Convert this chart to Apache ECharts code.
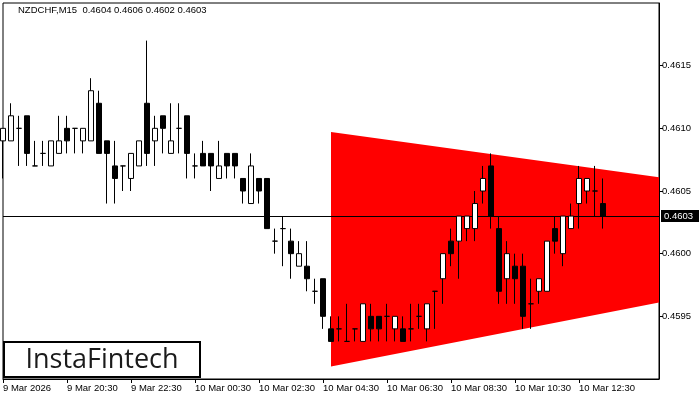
<!DOCTYPE html>
<html>
<head>
<meta charset="utf-8">
<script src="https://cdn.jsdelivr.net/npm/echarts@6/dist/echarts.min.js"></script>
<style>html,body{margin:0;padding:0;background:#fff}#c{width:700px;height:400px}</style>
</head>
<body>
<div id="c"></div>
<script>
// ---- data ----
var symbolTitle = "NZDCHF,M15  0.4604 0.4606 0.4602 0.4603";
var tickLabels = ["9 Mar 2026","9 Mar 20:30","9 Mar 22:30","10 Mar 00:30","10 Mar 02:30","10 Mar 04:30","10 Mar 06:30","10 Mar 08:30","10 Mar 10:30","10 Mar 12:30"];
var tickStep = 8;
var slotCount = 83;
var opens  = [0.4609,0.4609,0.4610,0.4611,0.4607,0.4608,0.4607,0.4608,0.4610,0.4610,0.4609,0.4609,0.4612,0.4609,0.4607,0.4607,0.4606,0.4607,0.4612,0.4609,0.4611,0.4608,0.4610,0.4611,0.4607,0.4608,0.4608,0.4606,0.4608,0.4608,0.4606,0.4604,0.4606,0.4606,0.4601,0.4602,0.4601,0.4599,0.4599,0.4597,0.4598,0.4594,0.4594,0.4593,0.4594,0.4593,0.4595,0.4595,0.4595,0.4594,0.4594,0.4594,0.4595,0.4594,0.4597,0.4598,0.4601,0.4601,0.4602,0.4602,0.4605,0.4607,0.4602,0.4598,0.4599,0.4599,0.4596,0.4597,0.4597,0.4602,0.4600,0.4602,0.4604,0.4605,0.4605,0.4604];
var highs  = [0.4610,0.4612,0.4611,0.4611,0.4609,0.4609,0.4609,0.4611,0.4611,0.4610,0.4610,0.4614,0.4613,0.4609,0.4609,0.4607,0.4608,0.4609,0.4617,0.4611,0.4611,0.4612,0.4612,0.4611,0.4608,0.4609,0.4608,0.4609,0.4608,0.4608,0.4606,0.4608,0.4606,0.4606,0.4602,0.4603,0.4602,0.4601,0.4601,0.4598,0.4598,0.4595,0.4595,0.4596,0.4594,0.4596,0.4596,0.4595,0.4596,0.4595,0.4595,0.4596,0.4596,0.4596,0.4597,0.4600,0.4602,0.4603,0.4603,0.4605,0.4607,0.4608,0.4603,0.4601,0.4600,0.4600,0.4598,0.4598,0.4601,0.4603,0.4603,0.4604,0.4607,0.4606,0.4607,0.4606];
var lows   = [0.4606,0.4609,0.4607,0.4607,0.4607,0.4607,0.4607,0.4608,0.4608,0.4608,0.4608,0.4609,0.4608,0.4604,0.4604,0.4605,0.4605,0.4607,0.4607,0.4607,0.4608,0.4608,0.4608,0.4606,0.4606,0.4607,0.4605,0.4606,0.4606,0.4606,0.4604,0.4604,0.4604,0.4602,0.4600,0.4599,0.4598,0.4599,0.4597,0.4596,0.4594,0.4593,0.4593,0.4593,0.4593,0.4593,0.4593,0.4593,0.4593,0.4593,0.4593,0.4593,0.4594,0.4593,0.4594,0.4596,0.4599,0.4598,0.4601,0.4601,0.4604,0.4602,0.4596,0.4596,0.4596,0.4594,0.4594,0.4596,0.4597,0.4600,0.4599,0.4602,0.4602,0.4604,0.4603,0.4602];
var closes = [0.4610,0.4611,0.4610,0.4608,0.4607,0.4608,0.4609,0.4609,0.4609,0.4610,0.4610,0.4613,0.4608,0.4608,0.4606,0.4607,0.4608,0.4609,0.4608,0.4610,0.4610,0.4609,0.4610,0.4608,0.4607,0.4607,0.4607,0.4607,0.4607,0.4607,0.4605,0.4607,0.4605,0.4602,0.4601,0.4602,0.4600,0.4600,0.4598,0.4597,0.4595,0.4593,0.4594,0.4593,0.4594,0.4596,0.4594,0.4594,0.4595,0.4595,0.4593,0.4594,0.4595,0.4596,0.4597,0.4600,0.4600,0.4603,0.4603,0.4604,0.4606,0.4603,0.4597,0.4600,0.4598,0.4595,0.4596,0.4598,0.4601,0.4601,0.4603,0.4603,0.4606,0.4606,0.4605,0.4603];
var currentPrice = 0.4603;
var triangleX = [41, 82];
var triangleTop = [0.46097, 0.46061];
var triangleBottom = [0.45910, 0.45961];
var yMin = 0.4590, yMax = 0.4620, yStep = 0.0005;

// ---- build ----
var categories = [];
for (var i = 0; i < slotCount; i++) categories.push(String(i));
var candleData = opens.map(function (o, i) { return [o, closes[i], lows[i], highs[i]]; });
function isTick(i) { return i % tickStep === 0 && (i / tickStep) < tickLabels.length; }
var FONT = '"Liberation Sans", Arial, sans-serif';

var chart = echarts.init(document.getElementById('c'), null, { renderer: 'canvas' });
chart.setOption({
  animation: false,
  backgroundColor: '#fff',
  grid: { left: 3, right: 41, top: 3, bottom: 21, show: true, borderColor: '#000', borderWidth: 1, backgroundColor: 'transparent' },
  xAxis: {
    type: 'category', data: categories, boundaryGap: false,
    axisLine: { show: true, lineStyle: { color: '#000', width: 1 } },
    axisTick: { show: true, interval: function (i) { return isTick(i); }, length: 4, lineStyle: { color: '#000' } },
    axisLabel: {
      interval: function (i) { return isTick(i); },
      formatter: function (v, i) { return tickLabels[i / tickStep] || ''; },
      align: 'left', margin: 4, color: '#000', fontSize: 9.5, fontFamily: FONT
    },
    splitLine: { show: false }
  },
  yAxis: {
    type: 'value', position: 'right', min: yMin, max: yMax, interval: yStep,
    axisLine: { show: true, lineStyle: { color: '#000', width: 1 } },
    axisTick: { show: true, length: 4, lineStyle: { color: '#000' } },
    axisLabel: { showMinLabel: false, showMaxLabel: false, margin: 3, color: '#000', fontSize: 9.5, fontFamily: FONT,
      formatter: function (v) { return v.toFixed(4); } },
    splitLine: { show: false }
  },
  series: [
    {
      type: 'custom', z: 1, silent: true,
      data: [[triangleX[0], triangleTop[0]]],
      renderItem: function (params, api) {
        var pts = [
          api.coord([triangleX[0], triangleTop[0]]),
          api.coord([triangleX[1], triangleTop[1]]),
          api.coord([triangleX[1], triangleBottom[1]]),
          api.coord([triangleX[0], triangleBottom[0]])
        ];
        return { type: 'polygon', shape: { points: pts }, style: { fill: '#ff0000' } };
      }
    },
    {
      type: 'custom', z: 2, silent: true, clip: false,
      data: [[0, currentPrice]],
      renderItem: function (params, api) {
        var a = api.coord([0, currentPrice]);
        var b = api.coord([slotCount - 1, currentPrice]);
        var y = Math.round(a[1]) + 0.5;
        return {
          type: 'group',
          children: [
            { type: 'line', shape: { x1: a[0], y1: y, x2: b[0], y2: y }, style: { stroke: '#000', lineWidth: 1 } },
            { type: 'rect', shape: { x: b[0] + 2, y: y - 6.5, width: 38, height: 12 }, style: { fill: '#000' } },
            { type: 'text', x: b[0] + 5, y: y, style: { text: currentPrice.toFixed(4), fill: '#fff', font: '9.5px ' + FONT, verticalAlign: 'middle', align: 'left' } }
          ]
        };
      }
    },
    {
      type: 'candlestick', z: 3, silent: true,
      data: candleData, barWidth: 5,
      itemStyle: { color: '#ffffff', color0: '#000000', borderColor: '#000000', borderColor0: '#000000', borderWidth: 1 }
    }
  ],
  graphic: [
    { type: 'text', left: 18, top: 5, z: 10, style: { text: symbolTitle, fill: '#000', font: '9.5px ' + FONT } },
    { type: 'rect', z: 10, shape: { x: 4, y: 342, width: 196, height: 35 }, style: { fill: '#fff', stroke: '#000', lineWidth: 2 } },
    { type: 'text', z: 11, x: 102, y: 360, style: { text: 'InstaFintech', fill: '#1a1a1a', font: '500 27px "Open Sans", Roboto, sans-serif', align: 'center', verticalAlign: 'middle' } }
  ]
});
</script>
</body>
</html>
